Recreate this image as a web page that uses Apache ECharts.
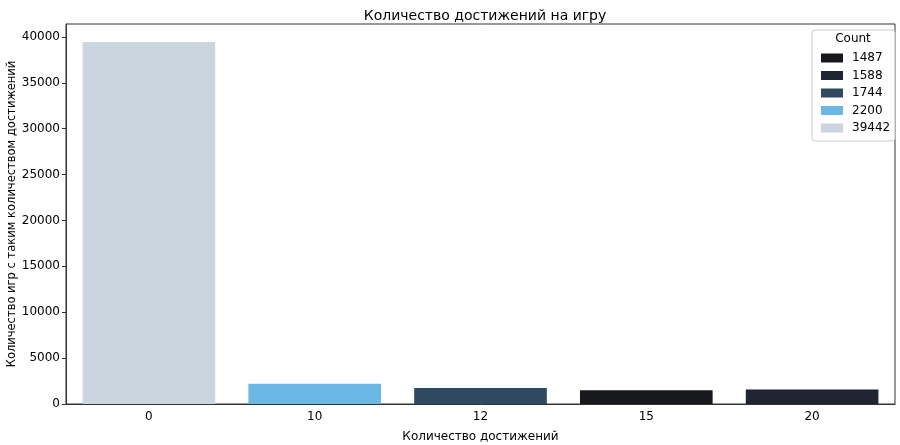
<!DOCTYPE html>
<html><head><meta charset="utf-8">
<script src="https://cdn.jsdelivr.net/npm/echarts@6/dist/echarts.min.js"></script>
<style>html,body{margin:0;padding:0;background:#fff}#c{width:900px;height:445px}</style>
</head><body><div id="c"></div>
<script>
const categories = ['0', '10', '12', '15', '20'];
const values = [39442, 2200, 1744, 1487, 1588];
const legendOrder = [1487, 1588, 1744, 2200, 39442];
const colorsByCount = {1487: '#18191d', 1588: '#1f2533', 1744: '#2f4a60', 2200: '#6cb8e5', 39442: '#cbd5e0'};
const yTicks = [0, 5000, 10000, 15000, 20000, 25000, 30000, 35000, 40000];

const font = 'DejaVu Sans';
const chart = echarts.init(document.getElementById('c'), null, {renderer: 'canvas'});
const series = legendOrder.map(cnt => ({
  name: String(cnt),
  type: 'bar',
  stack: 'all',
  barWidth: '80%',
  itemStyle: {color: colorsByCount[cnt]},
  data: values.map(v => v === cnt ? v : null)
}));
chart.setOption({
  animation: false,
  title: {text: 'Количество достижений на игру', left: 480, top: 4, textAlign: 'center',
    textStyle: {fontFamily: font, fontSize: 14, fontWeight: 'normal', color: '#000'}},
  grid: {left: 66, right: 5, top: 24, bottom: 41, show: true, borderColor: '#333', borderWidth: 1,
    containLabel: false, outerBoundsMode: 'none'},
  legend: {
    orient: 'vertical', left: 816, top: 47, itemWidth: 22, itemHeight: 9, itemGap: 5.5,
    textStyle: {fontFamily: font, fontSize: 12, color: '#000', padding: [0, 0, 0, 4]},
    data: legendOrder.map(String), icon: 'rect'
  },
  graphic: [
    {type: 'rect', shape: {x: 812, y: 30, width: 83, height: 111, r: 3},
     style: {fill: 'rgba(255,255,255,0.8)', stroke: '#ccc', lineWidth: 1}, z: 1},
    {type: 'text', x: 853, y: 33, style: {text: 'Count', textAlign: 'center', fontFamily: font, fontSize: 12, fill: '#000'}, z: 2}
  ],
  xAxis: {
    type: 'category', data: categories,
    name: 'Количество достижений', nameLocation: 'middle', nameGap: 27,
    nameTextStyle: {fontFamily: font, fontSize: 12, color: '#000'},
    axisLine: {lineStyle: {color: '#333'}},
    axisTick: {alignWithLabel: true, length: 4, lineStyle: {color: '#333'}},
    axisLabel: {fontFamily: font, fontSize: 12, color: '#000', margin: 7}
  },
  yAxis: {
    type: 'value', min: 0, max: 41414, interval: 5000,
    name: 'Количество игр с таким количеством достижений', nameLocation: 'middle', nameGap: 48,
    nameMoveOverlap: false,
    nameTextStyle: {fontFamily: font, fontSize: 11.5, color: '#000'},
    splitLine: {show: false},
    axisLine: {show: true, lineStyle: {color: '#333'}},
    axisTick: {show: true, length: 4, lineStyle: {color: '#333'}},
    axisLabel: {fontFamily: font, fontSize: 12, color: '#000', margin: 6, showMaxLabel: false,
      formatter: v => yTicks.includes(v) ? String(v) : ''}
  },
  series: series
});
</script></body></html>
